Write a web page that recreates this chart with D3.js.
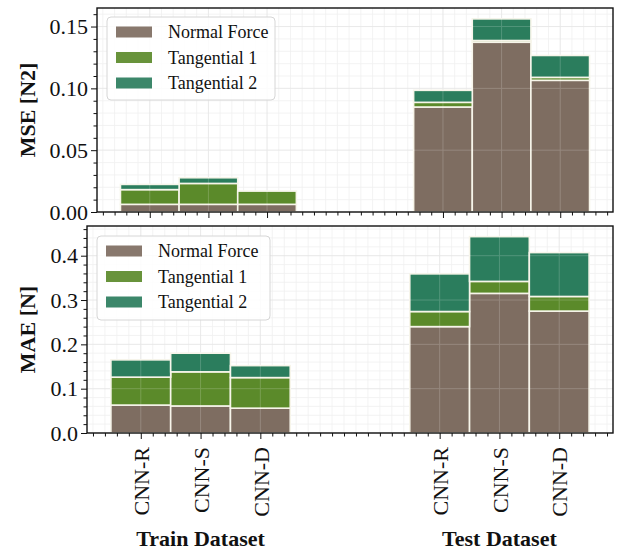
<!DOCTYPE html>
<html lang="en">
<head>
<meta charset="UTF-8">
<title>MSE / MAE stacked bars</title>
<script src="https://cdnjs.cloudflare.com/ajax/libs/d3/7.8.5/d3.min.js"></script>
<style>
  body { margin: 0; background: #fff; }
  svg text { font-family: "Liberation Serif", "DejaVu Serif", serif; fill: #111; }
</style>
</head>
<body>
<div id="chart"></div>
<script>
// Data
const models = ["CNN-R", "CNN-S", "CNN-D"];
const datasets = ["Train Dataset", "Test Dataset"];
const seriesNames = ["Normal Force", "Tangential 1", "Tangential 2"];

// order: train R,S,D then test R,S,D
const mseNormal = [0.0062, 0.0062, 0.0062, 0.0849, 0.1373, 0.1065];
const mseTan1   = [0.0119, 0.0169, 0.0107, 0.0038, 0.0014, 0.0024];
const mseTan2   = [0.0042, 0.0046, 0.0000, 0.0097, 0.0175, 0.0177];

const maeNormal = [0.063, 0.061, 0.056, 0.240, 0.315, 0.275];
const maeTan1   = [0.063, 0.077, 0.069, 0.034, 0.027, 0.033];
const maeTan2   = [0.039, 0.042, 0.027, 0.085, 0.101, 0.099];

const mseTicks = [0, 0.05, 0.10, 0.15];
const maeTicks = [0, 0.1, 0.2, 0.3, 0.4];

const colors = ["#7e6d61", "#5b8a2a", "#2b7d5d"];
const W = 624, H = 550;

const svg = d3.select("#chart").append("svg")
  .attr("width", W).attr("height", H);

// build rows: position 0,1,2 for train, 5,6,7 for test
function rows(a, b, c) {
  return a.map((v, i) => ({
    pos: Math.floor(i / 3) * 5 + (i % 3),
    model: models[i % 3],
    "Normal Force": v, "Tangential 1": b[i], "Tangential 2": c[i]
  }));
}

const panels = [
  { rows: rows(mseNormal, mseTan1, mseTan2), left: 97, top: 8, bottom: 212, ymax: 0.165,
    ticks: mseTicks, fmt: d3.format(".2f"), minor: 0.01, label: "MSE [N2]",
    legend: { x: 107, y: 17, w: 168, h: 83 } },
  { rows: rows(maeNormal, maeTan1, maeTan2), left: 87, top: 226, bottom: 433, ymax: 0.467,
    ticks: maeTicks, fmt: d3.format(".1f"), minor: 0.02, label: "MAE [N]",
    legend: { x: 97, y: 236, w: 173, h: 84 }, xlabels: true }
];
const right = 613;

const stack = d3.stack().keys(seriesNames);

panels.forEach(p => {
  const x = d3.scaleLinear().domain([-0.9, 7.9]).range([p.left, right]);
  const y = d3.scaleLinear().domain([0, p.ymax]).range([p.bottom, p.top]);
  const g = svg.append("g");
  const majorX = p.rows.map(d => d.pos);
  const minorX = d3.range(-0.8, 7.85, 0.2).map(v => +v.toFixed(1)).filter(v => !majorX.includes(v));
  const minorY = d3.range(0, p.ymax, p.minor).map(v => +v.toFixed(3)).filter(v => !p.ticks.some(t => Math.abs(t - v) < 1e-6));

  // grid (behind)
  g.selectAll(".gxm").data(minorX).join("line")
    .attr("x1", d => x(d)).attr("x2", d => x(d)).attr("y1", p.top).attr("y2", p.bottom)
    .attr("stroke", "#f0f0f0").attr("stroke-width", 0.8);
  g.selectAll(".gym").data(minorY).join("line")
    .attr("y1", d => y(d)).attr("y2", d => y(d)).attr("x1", p.left).attr("x2", right)
    .attr("stroke", "#f0f0f0").attr("stroke-width", 0.8);
  const gridMajor = g.append("g");
  gridMajor.selectAll("line.v").data(majorX).join("line").attr("class", "v")
    .attr("x1", d => x(d)).attr("x2", d => x(d)).attr("y1", p.top).attr("y2", p.bottom);
  gridMajor.selectAll("line.h").data(p.ticks).join("line").attr("class", "h")
    .attr("y1", d => y(d)).attr("y2", d => y(d)).attr("x1", p.left).attr("x2", right);
  gridMajor.selectAll("line").attr("stroke", "#e2e2e2").attr("stroke-width", 0.9);

  // stacked bars
  const layers = stack(p.rows);
  layers.forEach((layer, li) => {
    g.append("g").selectAll("rect").data(layer).join("rect")
      .attr("x", d => x(d.data.pos - 0.5))
      .attr("width", d => x(d.data.pos + 0.5) - x(d.data.pos - 0.5))
      .attr("y", d => y(d[1]))
      .attr("height", d => Math.max(0, y(d[0]) - y(d[1])))
      .attr("fill", colors[li])
      .attr("stroke", "#f7f5ea").attr("stroke-width", 1.6);
  });

  // faint major grid over bars
  const gridTop = g.append("g").attr("opacity", 0.18);
  gridTop.selectAll("line.v").data(majorX).join("line").attr("class", "v")
    .attr("x1", d => x(d)).attr("x2", d => x(d)).attr("y1", p.top).attr("y2", p.bottom);
  gridTop.selectAll("line.h").data(p.ticks).join("line").attr("class", "h")
    .attr("y1", d => y(d)).attr("y2", d => y(d)).attr("x1", p.left).attr("x2", right);
  gridTop.selectAll("line").attr("stroke", "#ffffff").attr("stroke-width", 1);

  // frame
  g.append("rect").attr("x", p.left).attr("y", p.top)
    .attr("width", right - p.left).attr("height", p.bottom - p.top)
    .attr("fill", "none").attr("stroke", "#111").attr("stroke-width", 1.4);

  // y axis
  const yAxis = g.append("g").attr("transform", `translate(${p.left},0)`)
    .call(d3.axisLeft(y).tickValues(p.ticks).tickFormat(p.fmt).tickSize(6).tickPadding(3));
  yAxis.select(".domain").remove();
  yAxis.selectAll("text").style("font-size", "22px").attr("fill", "#111");
  yAxis.selectAll("line").attr("stroke", "#111");
  const yMinor = g.append("g").attr("transform", `translate(${p.left},0)`)
    .call(d3.axisLeft(y).tickValues(minorY).tickFormat("").tickSize(3.5));
  yMinor.select(".domain").remove();
  yMinor.selectAll("line").attr("stroke", "#111");

  // x axis
  const xAxis = g.append("g").attr("transform", `translate(0,${p.bottom})`)
    .call(d3.axisBottom(x).tickValues(majorX).tickFormat((d, i) => p.xlabels ? p.rows[i].model : "").tickSize(6));
  xAxis.select(".domain").remove();
  xAxis.selectAll("line").attr("stroke", "#111");
  xAxis.selectAll("text")
    .style("font-size", "22px").attr("fill", "#111")
    .attr("text-anchor", "end")
    .attr("transform", "rotate(-90)")
    .attr("x", -14).attr("y", 0).attr("dy", "0.35em");
  const xMinor = g.append("g").attr("transform", `translate(0,${p.bottom})`)
    .call(d3.axisBottom(x).tickValues(minorX).tickFormat("").tickSize(3.5));
  xMinor.select(".domain").remove();
  xMinor.selectAll("line").attr("stroke", "#111");

  // y label
  svg.append("text")
    .attr("transform", `translate(35,${(p.top + p.bottom) / 2}) rotate(-90)`)
    .attr("text-anchor", "middle")
    .style("font-size", "22px").style("font-weight", "bold")
    .text(p.label);

  // legend
  const L = p.legend;
  const lg = g.append("g").attr("transform", `translate(${L.x},${L.y})`);
  lg.append("rect").attr("width", L.w).attr("height", L.h).attr("rx", 4)
    .attr("fill", "#fff").attr("fill-opacity", 0.85)
    .attr("stroke", "#d6d6d6").attr("stroke-width", 1);
  seriesNames.forEach((s, i) => {
    const ry = 15 + i * 25.5;
    lg.append("rect").attr("x", 9).attr("y", ry - 5.5).attr("width", 36).attr("height", 11)
      .attr("fill", colors[i]).attr("opacity", 0.92);
    lg.append("text").attr("x", 61).attr("y", ry).attr("dy", "0.35em")
      .style("font-size", "18px").text(s);
  });

  if (p.xlabels) {
    datasets.forEach((name, i) => {
      svg.append("text")
        .attr("x", x(i * 5 + 1)).attr("y", 546)
        .attr("text-anchor", "middle")
        .style("font-size", "22px").style("font-weight", "bold")
        .text(name);
    });
  }
});
</script>
</body>
</html>
